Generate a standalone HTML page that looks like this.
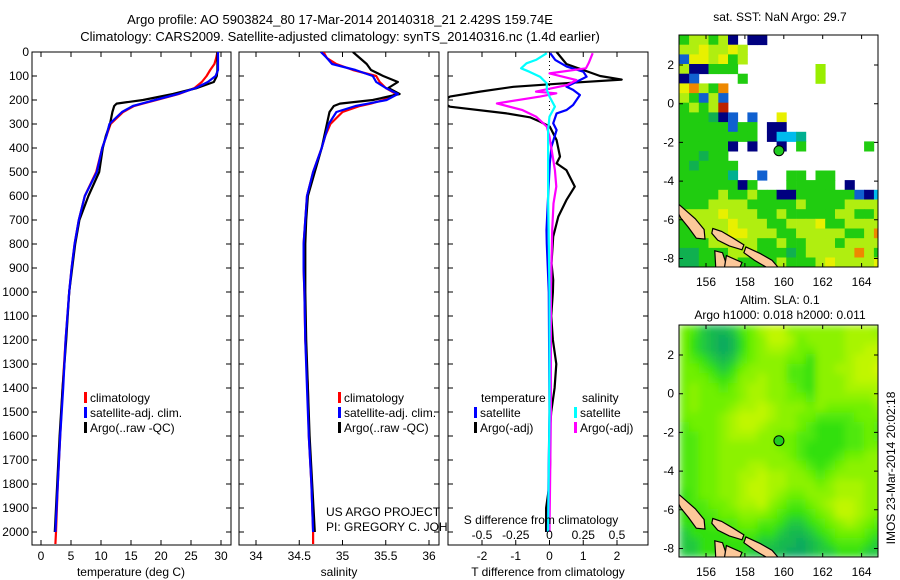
<!DOCTYPE html>
<html><head><meta charset="utf-8"><style>
body{margin:0;background:#fff;}
svg{display:block;font-family:"Liberation Sans",sans-serif;font-size:12px;}
</style></head><body>
<svg id="fig" width="900" height="580" viewBox="0 0 900 580">
<text x="340" y="24" text-anchor="middle" font-size="13">Argo profile: AO 5903824_80 17-Mar-2014 20140318_21 2.429S 159.74E</text>
<text x="340" y="41" text-anchor="middle" font-size="13">Climatology: CARS2009. Satellite-adjusted climatology: synTS_20140316.nc (1.4d earlier)</text>
<g id="g1"></g>
<g id="g2"></g>
<g id="g3"></g>
<g id="m1"></g>
<g id="m2"></g>
<text x="780" y="21" text-anchor="middle">sat. SST: NaN Argo: 29.7</text>
<text x="780" y="304" text-anchor="middle">Altim. SLA: 0.1</text>
<text x="780" y="319" text-anchor="middle">Argo h1000: 0.018 h2000: 0.011</text>
<text transform="translate(895,468) rotate(-90)" text-anchor="middle">IMOS 23-Mar-2014 20:02:18</text>
</svg>
<script>
const depths=[0,25,50,75,100,125,150,175,200,215,225,250,300,350,400,500,600,700,800,900,1000,1200,1400,1600,1800,2000,2050];
const argoT=[29.4,29.4,29.4,29.4,29.3,28.8,26,22,17,12.6,12.2,11.9,11.5,10.8,10.3,9.7,7.9,6.4,5.7,5.2,4.7,4.2,3.6,3.1,2.7,2.3,2.3];
const climT=[29.4,29.2,28.9,28.2,27.6,26.8,25.6,23,19.3,17,15.5,13.7,11.6,10.9,10.2,9.2,7.3,6.3,5.6,5.1,4.7,4.1,3.6,3.2,2.8,2.5,2.4];
const satT=[29.5,29.5,29.5,29.5,29.1,27.8,25.8,22.8,19.0,16.8,15.3,13.5,11.4,10.9,10.2,9.3,7.3,6.3,5.6,5.1,4.7,4.1,3.7,3.2,2.8,2.4,2.4];
const argoS=[35.12,35.2,35.28,35.33,35.47,35.64,35.53,35.66,35.35,34.97,34.9,34.85,34.82,34.79,34.76,34.68,34.6,34.58,34.57,34.57,34.57,34.58,34.6,34.62,34.65,34.68,34.68];
const climS=[34.78,34.82,34.93,35.12,35.39,35.43,35.5,35.62,35.47,35.33,35.2,35.0,34.86,34.8,34.76,34.66,34.59,34.57,34.55,34.55,34.56,34.57,34.6,34.61,34.64,34.66,34.66];
const satS=[34.75,34.82,34.88,35.15,35.35,35.39,35.5,35.64,35.51,35.3,35.15,34.93,34.84,34.8,34.76,34.66,34.59,34.57,34.55,34.55,34.56,34.57,34.59,34.61,34.64,34.66,34.66];
const dTargoD=[0,50,100,115,128,145,165,186,200,215,228,256,272,290,311,367,436,464,492,561,617,686,769,880,950,1000,1100,1200,1300,1400,1500,1600,1700,1800,1900,2000];
const dTargo=[0.21,0.5,1.5,2.14,0.7,-1.07,-2.06,-2.95,-3.1,-3.1,-2.95,-1.27,-0.58,-0.28,0.01,0.21,0.31,0.21,0.5,0.75,0.5,0.26,0.11,0.06,0.11,0.1,0.05,0.1,0.2,0.15,0.05,0,0.02,0,-0.1,-0.1];
const dTsatD=[5,33,61,82,103,117,144,158,179,200,221,242,256,297,325,394,464,603,742,800,1000,1500,2000];
const dTsat=[0.02,0.17,0.51,1.0,1.1,0.9,0.5,0.7,0.9,0.8,0.7,0.5,0.21,0.11,0.21,0.06,0.01,-0.04,-0.09,-0.08,-0.02,0,-0.05];
const dSargoD=[5,47,68,89,117,138,165,172,186,214,242,269,311,353,492,561,631,742,1000,1500,2000];
const dSargo=[0.32,0.29,0.27,0.0,0.2,0.13,-0.1,0.05,-0.07,-0.39,-0.2,-0.1,-0.02,0.0,0.04,0.05,0.03,0.02,0.01,0.01,0.0];
const dSsatD=[5,33,47,68,82,103,131,158,186,228,269,325,600,1000,1500,2000];
const dSsat=[-0.02,-0.1,-0.17,-0.21,-0.15,-0.07,-0.02,-0.02,0.0,0.04,0.0,-0.01,-0.01,0.0,0.0,-0.01];
const depthTicks=[0,100,200,300,400,500,600,700,800,900,1000,1100,1200,1300,1400,1500,1600,1700,1800,1900,2000];
const tTicks=[0,5,10,15,20,25,30];
const sTicks=[34,34.5,35,35.5,36];
const dtTicks=[-2,-1,0,1,2];
const dsTicks=[-0.5,-0.25,0,0.25,0.5];
const dsLabels=["-0.5","-0.25","0","0.25","0.5"];
const lonTicks=[156,158,160,162,164];
const latTicks=[2,0,-2,-4,-6,-8];
const sstRows=["gyygyn.nn............","yyYyyYy..............","bYYyYgy..............","ynnggg........l......","nb....g.......l......","Yoygo................","ygbyb................","gygyr................","gggGnb.b..Y..........","gggggbgg.nn..........","gggggggg.ncct........","gggggn.n..n.g......g.","ggGgg................","gGgggg...............","gggggt..b..gg.gg.....","ggggggng...ggggg.n...","ggggyggyggnnggggggbnc","gggyyyygggggyggggyyyy","yyyyYyyyggygggggyyggy","gyyyyYyyyggyyyYggyyyy","ggyyyYYyyyggyyyyyggyo","gggyyyyyggyggyyygyyyy","GGgggyyygggGgyyyyyoyg","GGgggyggggygggyYyyyyY"];
const slaRows=["542112457886666667776","532101356887566667777","532101356776556667788","543212456665536667888","554323566664436677889","555434667664436667888","565545677665436667777","565555677665546666667","565556778766656555556","555567888766554444555","455567887666543334454","445567776655443334454","445566666655433334455","445566666665433345566","445566677666543456666","445566778776654566666","445566788776665677766","345566788765566677766","344556778654456788766","334455666543345688765","333444554432234567654","233334443321123455543","223333332211012344432","223333322110012233322"];
const argoLon=159.75, argoLat=-2.43;
const islands=[[[154.6,-5.2],[155.0,-5.55],[155.45,-5.95],[155.9,-6.5],[155.95,-7.0],[155.5,-6.95],[155.1,-6.4],[154.7,-5.9],[154.6,-5.7]],
[[156.35,-6.45],[156.8,-6.6],[157.4,-6.95],[157.95,-7.3],[157.85,-7.55],[157.2,-7.35],[156.6,-7.05],[156.3,-6.7]],
[[158.05,-7.4],[158.8,-7.75],[159.4,-8.1],[159.7,-8.45],[159.1,-8.45],[158.5,-8.1],[157.95,-7.7]],
[[156.45,-7.6],[156.85,-7.7],[157.1,-8.45],[156.5,-8.45]],
[[157.05,-7.85],[157.85,-8.2],[157.75,-8.45],[156.95,-8.45]]];

const NS="http://www.w3.org/2000/svg";
function mk(parent,tag,attrs){const e=document.createElementNS(NS,tag);for(const k in attrs)e.setAttribute(k,attrs[k]);parent.appendChild(e);return e;}
const yD=d=>52+d*0.24;
const xT=t=>41+t*6;
const xS=s=>256+(s-34)*86.5;
const xDT=t=>549.5+t*33.75;
const xDS=s=>549.5+s*135;

function frame(g,x0,x1){
  const r=mk(g,'rect',{x:x0,y:52,width:x1-x0,height:493,fill:'#fff',stroke:'#000','stroke-width':1});
  
  
  depthTicks.forEach(d=>{
    const l=mk(g,'path',{d:`M${x0} ${yD(d)}h5M${x1} ${yD(d)}h-5`,stroke:'#000'});
    
    
  });
}
function line(g,xs,ds,fx,col,name,clipId){
  const p=mk(g,'path',{d:xs.map((v,i)=>(i?'L':'M')+fx(v).toFixed(1)+' '+yD(ds[i]).toFixed(1)).join(''),fill:'none',stroke:col,'stroke-width':2.2,'stroke-linejoin':'round'});
  if(clipId)p.setAttribute('clip-path','url(#'+clipId+')');
  
  
}
function xticks(g,vals,fx,labels,ylab){
  vals.forEach((v,i)=>{
    const t=mk(g,'path',{d:`M${fx(v)} 545v-5M${fx(v)} 52v5`,stroke:'#000'});
    
    
    const tx=mk(g,'text',{x:fx(v),y:ylab,'text-anchor':'middle'});tx.textContent=labels[i];
    
    
  });
}
function legend(g,x,y0,items){
  items.forEach((it,i)=>{
    const y=y0+i*15;
    const b=mk(g,'rect',{x:x,y:y-10,width:3,height:11,fill:it[0]});
    
    
    const t=mk(g,'text',{x:x+6,y:y});t.textContent=it[1];
    
    
  });
}
function label(g,x,y,txt,name,anchor){const t=mk(g,'text',{x:x,y:y,'text-anchor':anchor||'middle'});t.textContent=txt;return t;}

const defs=mk(document.getElementById('fig'),'defs',{});
[['c1',32,231],['c2',239,439],['c3',448,648]].forEach(c=>{const cp=mk(defs,'clipPath',{id:c[0]});mk(cp,'rect',{x:c[1],y:52,width:c[2]-c[1],height:493});});
const flt=mk(defs,'filter',{id:'smooth',x:'0',y:'0',width:'1',height:'1'});
mk(flt,'feGaussianBlur',{stdDeviation:'4',edgeMode:'duplicate'});

// Panel 1
const g1=document.getElementById('g1');
frame(g1,32,231);
depthTicks.forEach(d=>label(g1,29,yD(d)+4,String(d),'depth-tick-label','end'));
xticks(g1,tTicks,xT,tTicks.map(String),560);
label(g1,131,576,'temperature (deg C)','x-axis-title');
line(g1,climT,depths,xT,'#f00','climatology-temperature-line','c1');
line(g1,argoT.slice(0,26),depths.slice(0,26),xT,'#000','argo-temperature-line','c1');
line(g1,satT.slice(0,26),depths.slice(0,26),xT,'#00f','satellite-temperature-line','c1');
legend(g1,84,402,[['#f00','climatology'],['#00f','satellite-adj. clim.'],['#000','Argo(..raw -QC)']]);

// Panel 2
const g2=document.getElementById('g2');
frame(g2,239,439);
xticks(g2,sTicks,xS,sTicks.map(String),560);
label(g2,339,576,'salinity','x-axis-title');
line(g2,climS,depths,xS,'#f00','climatology-salinity-line','c2');
line(g2,argoS.slice(0,26),depths.slice(0,26),xS,'#000','argo-salinity-line','c2');
line(g2,satS.slice(0,26),depths.slice(0,26),xS,'#00f','satellite-salinity-line','c2');
legend(g2,338,402,[['#f00','climatology'],['#00f','satellite-adj. clim.'],['#000','Argo(..raw -QC)']]);
label(g2,326,516,'US ARGO PROJECT','credit-project','start');
label(g2,326,531,'PI: GREGORY C. JOHNSON','credit-pi','start');

// Panel 3
const g3=document.getElementById('g3');
frame(g3,448,648);
xticks(g3,dtTicks,xDT,dtTicks.map(String),560);
label(g3,548,576,'T difference from climatology','x-axis-title');
const zl=mk(g3,'path',{d:`M${xDT(0)} 53V112`,stroke:'#000','stroke-dasharray':'1,3'});


line(g3,dTargo,dTargoD,xDT,'#000','argo-temperature-diff-line','c3');
line(g3,dTsat,dTsatD,xDT,'#00f','satellite-temperature-diff-line','c3');
line(g3,dSargo,dSargoD,xDS,'#f0f','argo-salinity-diff-line','c3');
line(g3,dSsat,dSsatD,xDS,'#0ff','satellite-salinity-diff-line','c3');
label(g3,541,524,'S difference from climatology','s-axis-title');
dsTicks.forEach((v,i)=>label(g3,xDS(v),539,dsLabels[i],'s-tick-label'));
label(g3,481,402,'temperature','legend-header-temperature','start');
label(g3,582,402,'salinity','legend-header-salinity','start');
legend(g3,474,417,[['#00f','satellite'],['#000','Argo(-adj)']]);
legend(g3,574,417,[['#0ff','satellite'],['#f0f','Argo(-adj)']]);

// Maps
const sstCol={g:'#20cc10',G:'#10b050',y:'#b0ee10',Y:'#e8f000',l:'#99ee00',n:'#000080',b:'#1060d0',c:'#00bbee',t:'#00b090',o:'#ee8800',r:'#bb2200'};
function ramp(v){const stops=[[0,[16,168,96]],[2,[32,200,64]],[3,[48,224,16]],[5,[112,240,0]],[7,[168,244,0]],[9,[216,248,0]]];
  for(let i=0;i<stops.length-1;i++){if(v<=stops[i+1][0]){const a=stops[i],b=stops[i+1],f=(v-a[0])/(b[0]-a[0]);return 'rgb('+a[1].map((c,k)=>Math.round(c+(b[1][k]-c)*f)).join(',')+')';}}return 'rgb(216,248,0)';}
function drawMap(id,top,rows,colorFn,smooth){
  const g=document.getElementById(id);
  const L=679,R=878,T=top,B=top+232;
  const lx=lon=>706+(lon-156)*19.45;
  const ly=lat=>T+(3.55-lat)*19.35;
  const cp=mk(defs,'clipPath',{id:'cl'+id});mk(cp,'rect',{x:L,y:T,width:R-L,height:B-T});
  const cg=mk(g,'g',{'clip-path':'url(#cl'+id+')'});
  const cells=mk(cg,'g',smooth?{filter:'url(#smooth)'}:{});
  rows.forEach((row,r)=>{for(let c=0;c<row.length;c++){const col=colorFn(row[c]);if(!col)continue;
    const lon0=154.63+0.5*c, lat0=3.55-0.5*r;
    const x=lx(lon0),y=ly(lat0);
    const e=mk(cells,'rect',{x:x.toFixed(1),y:y.toFixed(1),width:(lx(lon0+0.5)-x+0.4).toFixed(1),height:(ly(lat0-0.5)-y+0.4).toFixed(1),fill:col});
    
    }});
  islands.forEach(isl=>{const p=mk(cg,'polygon',{points:isl.map(q=>lx(q[0]).toFixed(1)+','+ly(q[1]).toFixed(1)).join(' '),fill:'#fcc89a',stroke:'#000','stroke-width':1.2});
    
    });
  const dot=mk(g,'circle',{cx:lx(argoLon),cy:ly(argoLat),r:5,fill:'#20cc20',stroke:'#000','stroke-width':1});
  
  
  const fr=mk(g,'rect',{x:L,y:T,width:R-L,height:B-T,fill:'none',stroke:'#000'});
  
  
  lonTicks.forEach(v=>{const t=mk(g,'path',{d:`M${lx(v)} ${B}v-4M${lx(v)} ${T}v4`,stroke:'#000'});
    label(g,lx(v),B+19,String(v),'lon-tick-label');});
  latTicks.forEach(v=>{const t=mk(g,'path',{d:`M${L} ${ly(v)}h4M${R} ${ly(v)}h-4`,stroke:'#000'});
    label(g,L-5,ly(v)+4,String(v),'lat-tick-label','end');});
}
drawMap('m1',35,sstRows,ch=>sstCol[ch]||null,false);
drawMap('m2',325,slaRows,ch=>ramp(+ch),true);
</script>
</body></html>
